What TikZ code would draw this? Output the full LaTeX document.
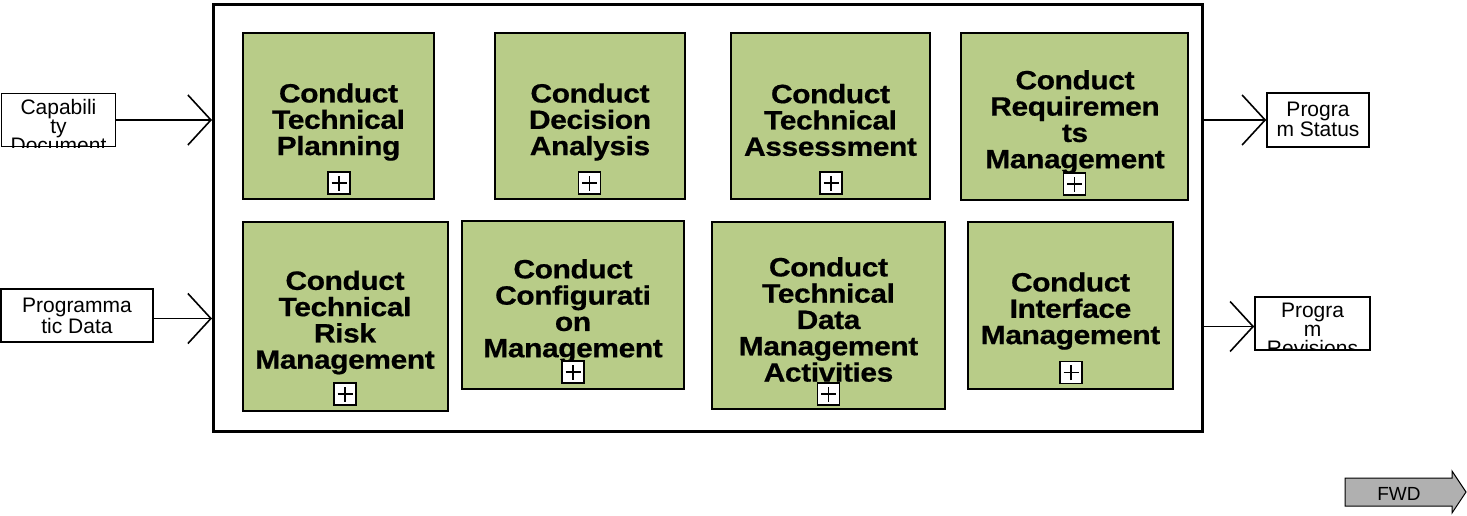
\documentclass[tikz,border=0pt]{standalone}
\usepackage{fontspec}
\setmainfont{Liberation Sans}
\newfontfamily\boxfont[FakeStretch=1.13, FakeBold=0.6, LetterSpace=-1.5]{Liberation Sans}
\usetikzlibrary{arrows.meta}
\definecolor{boxgreen}{HTML}{B8CC88}
\definecolor{fwdgray}{HTML}{B0B0B0}
\begin{document}
\begin{tikzpicture}[x=1pt,y=-1pt,
  mainbox/.style={draw, line width=3pt, inner sep=0},
  proc/.style={draw, line width=2pt, fill=boxgreen, inner sep=0},
  ptext/.style={font=\boxfont\bfseries\fontsize{26.5}{26.3}\selectfont, align=center, inner sep=0},
  plusbox/.style={draw, line width=1.3pt, fill=white, minimum size=22, inner sep=0,
    path picture={
      \draw[line width=1.2pt] ([xshift=-7.5pt]path picture bounding box.center) -- ([xshift=7.5pt]path picture bounding box.center);
      \draw[line width=1.2pt] ([yshift=-7.5pt]path picture bounding box.center) -- ([yshift=7.5pt]path picture bounding box.center);}},
  iobox/.style={draw, line width=1.6pt, fill=white, inner sep=0},
  iotext/.style={font=\fontsize{21}{19}\selectfont, align=center, inner sep=0},
  flow/.style={line width=1.6pt, -{Straight Barb[length=23pt, width=50pt]}},
  fwdshape/.style={draw, line width=1pt, fill=fwdgray},
  fwdtext/.style={font=\fontsize{19}{20}\selectfont, inner sep=0}
]
\useasboundingbox (0,0) rectangle (1467,516);

% main frame
\node[mainbox, minimum width=989, minimum height=427] (main) at (708,218) {};

% activity boxes
\node[proc, minimum width=191, minimum height=166] (p1) at (338.5,116) {};
\node[proc, minimum width=190, minimum height=166] (p2) at (590,116) {};
\node[proc, minimum width=199, minimum height=166] (p3) at (830.5,116) {};
\node[proc, minimum width=227, minimum height=167] (p4) at (1074.5,116.5) {};
\node[proc, minimum width=205, minimum height=189] (p5) at (345.5,316.5) {};
\node[proc, minimum width=222, minimum height=168] (p6) at (573,305) {};
\node[proc, minimum width=233, minimum height=187] (p7) at (828.5,315.5) {};
\node[proc, minimum width=205, minimum height=167] (p8) at (1070.5,305) {};

\node[ptext] (t1) at (338.5,122) {Conduct\\Technical\\Planning};
\node[ptext] (t2) at (590,122) {Conduct\\Decision\\Analysis};
\node[ptext] (t3) at (830.5,120) {Conduct\\Technical\\Assessment};
\node[ptext] (t4) at (1075,122) {Conduct\\Requiremen\\ts\\Management};
\node[ptext] (t5) at (345,322.5) {Conduct\\Technical\\Risk\\Management};
\node[ptext] (t6) at (573,311) {Conduct\\Configurati\\on\\Management};
\node[ptext] (t7) at (828.5,319.5) {Conduct\\Technical\\Data\\Management\\Activities};
\node[ptext] (t8) at (1070.5,311) {Conduct\\Interface\\Management};

\node[plusbox] (x1) at (339,183) {};
\node[plusbox] (x2) at (589.5,183) {};
\node[plusbox] (x3) at (831,183) {};
\node[plusbox] (x4) at (1074.5,184) {};
\node[plusbox] (x5) at (345,394) {};
\node[plusbox] (x6) at (573,372) {};
\node[plusbox] (x7) at (828.5,394) {};
\node[plusbox] (x8) at (1071,372.5) {};

% inputs
\node[iobox, minimum width=114, minimum height=53] (cap) at (58.5,120) {};
\begin{scope}
  \clip (cap.south west) rectangle (cap.north east);
  \node[iotext, anchor=north] (capt) at ([yshift=-6pt]cap.north) {Capabili\\ty\\Document};
\end{scope}
\node[iobox, minimum width=152, minimum height=53] (prog) at (77,315.5) {};
\node[iotext] (progt) at (77,316) {Programma\\tic Data};

% outputs
\node[iobox, minimum width=102, minimum height=54] (stat) at (1318,120) {};
\node[iotext] (statt) at (1318,119) {Progra\\m Status};
\node[iobox, minimum width=115, minimum height=53] (rev) at (1312.5,323.5) {};
\begin{scope}
  \clip (rev.south west) rectangle (rev.north east);
  \node[iotext, anchor=north] (revt) at ([yshift=-7pt]rev.north) {Progra\\m\\Revisions};
\end{scope}

% connectors
\draw[flow] (cap.east) -- (cap.east -| main.west);
\draw[flow] ([yshift=-3pt]prog.east) -- ([yshift=-3pt]prog.east -| main.west);
\draw[flow] (main.east |- stat.west) -- (stat.west);
\draw[flow] ([yshift=-3pt]main.east |- rev.west) -- ([yshift=-3pt]rev.west);

% FWD arrow
\path[fwdshape] (1345,478) -- (1452,478) -- (1452,471) -- (1466,492) -- (1452,513) -- (1452,506) -- (1345,506) -- cycle;
\node[fwdtext] (fwd) at (1399,494) {FWD};
\end{tikzpicture}
\end{document}
